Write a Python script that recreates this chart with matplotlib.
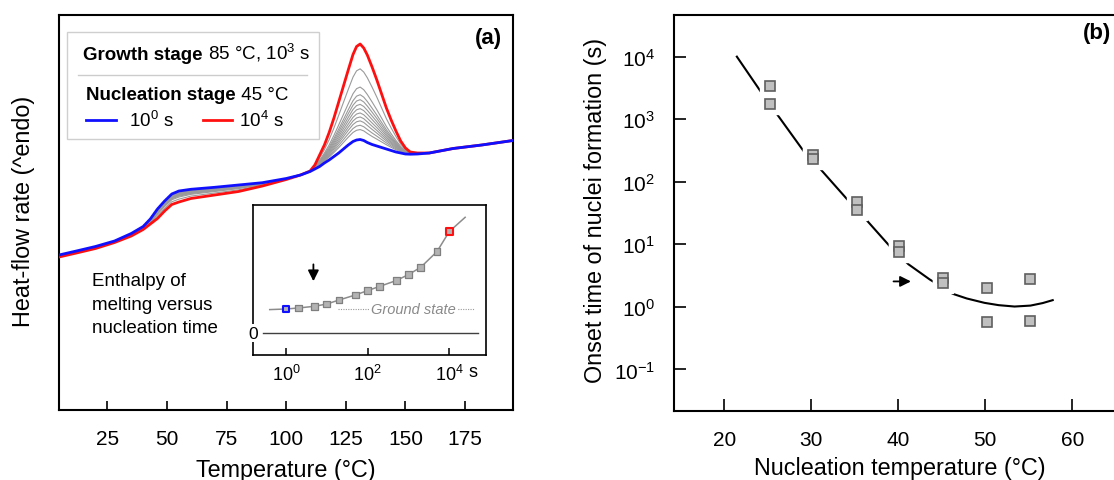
import matplotlib
matplotlib.use('Agg')
import numpy as np
import matplotlib.pyplot as plt
from matplotlib.lines import Line2D
from matplotlib.patches import Rectangle
from matplotlib.ticker import NullLocator

plt.rcParams['font.family'] = ['Liberation Sans', 'DejaVu Sans']
plt.rcParams['mathtext.fontset'] = 'custom'
plt.rcParams['mathtext.rm'] = 'Liberation Sans'
plt.rcParams['mathtext.it'] = 'Liberation Sans:italic'
plt.rcParams['mathtext.bf'] = 'Liberation Sans:bold'

# (a) DSC traces, heat flow in arbitrary units
temp = [4.7, 12, 20, 28, 35, 40, 43, 46, 49, 52, 55, 60, 70, 80, 90, 100, 106, 110,
        112, 114, 116, 118, 120, 122, 124, 126, 128, 129.5, 131, 132.5, 134, 136, 138,
        140, 142, 144, 146, 148, 150, 152, 155, 160, 170, 182, 195.1]
flow_1s = [155, 159, 163.5, 169, 176.5, 183.5, 191, 201, 209, 216, 219, 220.7, 222.7,
           225, 227.3, 231.5, 235, 238.5, 241, 243.5, 247, 250, 253.5, 257, 261, 265,
           268.5, 270, 270.5, 269.5, 267.5, 265.5, 264, 262.5, 261, 259.5, 258, 257,
           256, 255.8, 256, 257, 261.5, 265, 269.5]
flow_1e4s = [153, 157, 161.5, 167.5, 174, 180.5, 186, 191.5, 199, 205.5, 208, 211.5,
             215, 218.5, 224, 230.5, 235, 239, 245, 255, 265, 277.5, 292, 308, 324, 340,
             355.5, 363.5, 366, 362, 355, 343, 330, 316, 302, 290, 279, 269, 262, 258,
             257, 257, 261.5, 265, 269.5]
# relative peak heights of the intermediate traces (0 -> 1 s trace, 1 -> 1e4 s trace)
mix_frac = [0.104, 0.149, 0.195, 0.236, 0.278, 0.323, 0.368, 0.417, 0.469, 0.549, 0.740]

# (a) inset: melting enthalpy vs nucleation time
nucl_time = [1, 2, 5, 10, 20, 50, 100, 200, 500, 1000, 2000, 5000, 10000]
enthalpy = [24.3, 25.3, 27.0, 29.3, 33.3, 38.3, 42.7, 47.0, 52.7, 58.7, 66.0, 81.7, 101.7]
trend_time = [0.4] + nucl_time + [24500]
trend_enth = [23.7] + enthalpy + [116]
ground_state = 24.3

# (b) onset time of nuclei formation
nucl_temp = [25.2, 25.2, 30.2, 30.2, 35.25, 35.25, 40.1, 40.1, 45.1, 45.1, 50.2, 50.2, 55.1, 55.1]
onset_time = [3440, 1740, 263, 232, 47.5, 35.8, 9.4, 7.5, 2.85, 2.43, 1.97, 0.566, 2.74, 0.60]
fit_temp = [21.43, 24.48, 26.02, 29.16, 30.99, 34.24, 36.07, 39.13, 41.16, 43.60,
            46.25, 47.87, 49.91, 51.54, 53.37, 55.2, 56.6, 57.76]
fit_log_time = [4.0, 3.38, 3.085, 2.48, 2.21, 1.70, 1.43, 0.952, 0.681, 0.439,
                0.209, 0.134, 0.064, 0.027, 0.005, 0.02, 0.06, 0.107]

fig = plt.figure(figsize=(11.14, 4.81), dpi=100)

# ---------------- panel (a) ----------------
ax = fig.add_axes([0.05296, 0.14553, 0.40754, 0.82121])
blue = np.array(flow_1s)
red = np.array(flow_1e4s)
for w in mix_frac:
    ax.plot(temp, blue + w * (red - blue), color='#9a9a9a', lw=0.8, zorder=2)
ax.plot(temp, flow_1e4s, color='#ff1010', lw=2.0, zorder=3)
ax.plot(temp, flow_1s, color='#1010ff', lw=2.0, zorder=4)

ax.set_xlim(4.7, 195.1)
ax.set_ylim(0, 395)
ax.set_xticks([25, 50, 75, 100, 125, 150, 175])
ax.tick_params(axis='x', direction='in', length=6.5, width=1.2, labelsize=15, pad=13.5)
ax.tick_params(axis='y', left=False, labelleft=False)
for s in ax.spines.values():
    s.set_linewidth(1.5)
ax.set_xlabel('Temperature (°C)', fontsize=16.8, va='top')
ax.xaxis.set_label_coords(0.5, -0.121)
ax.set_ylabel('Heat-flow rate (^endo)', fontsize=16.8)
ax.yaxis.set_label_coords(-0.053, 0.505)

# legend block
ax.add_patch(Rectangle((0.017, 0.686), 0.556, 0.270, transform=ax.transAxes,
                       facecolor='white', edgecolor='#cfcfcf', lw=1.0, zorder=5))
t1 = ax.text(0.0535, 0.901, 'Growth stage', transform=ax.transAxes, fontsize=13.5,
             fontweight='bold', va='center', zorder=6)
ax.annotate(' 85 °C, 10$^3$ s', xy=(1, 0), xycoords=t1, va='bottom', ha='left',
            fontsize=13.5, zorder=6)
ax.add_line(Line2D([0.0419, 0.546], [0.848, 0.848], transform=ax.transAxes,
                   color='#cccccc', lw=1.0, zorder=6))
t2 = ax.text(0.0595, 0.798, 'Nucleation stage', transform=ax.transAxes, fontsize=13.5,
             fontweight='bold', va='center', zorder=6)
ax.annotate(' 45 °C', xy=(1, 0), xycoords=t2, va='bottom', ha='left',
            fontsize=13.5, zorder=6)
ax.add_line(Line2D([0.0595, 0.1256], [0.735, 0.735], transform=ax.transAxes,
                   color='#1010ff', lw=2.0, zorder=6))
ax.text(0.154, 0.735, '10$^0$ s', transform=ax.transAxes, fontsize=13.5, va='center', zorder=6)
ax.add_line(Line2D([0.317, 0.381], [0.735, 0.735], transform=ax.transAxes,
                   color='#ff1010', lw=2.0, zorder=6))
ax.text(0.396, 0.735, '10$^4$ s', transform=ax.transAxes, fontsize=13.5, va='center', zorder=6)

ax.text(0.945, 0.942, '(a)', transform=ax.transAxes, fontsize=16, fontweight='bold',
        ha='center', va='center')
ax.text(0.0727, 0.268, 'Enthalpy of\nmelting versus\nnucleation time', transform=ax.transAxes,
        fontsize=13.5, va='center', ha='left', linespacing=1.5)

# inset
axi = fig.add_axes([0.22738, 0.26050, 0.20889, 0.31185])
axi.set_xscale('log')
axi.plot([0.27, 50000], [0, 0], color='#404040', lw=1.0, zorder=1)
axi.plot([19, 40700], [ground_state, ground_state], color='#9a9a9a', lw=0.8,
         ls=(0, (1, 1.2)), zorder=1)
axi.text(1290, ground_state, 'Ground state', fontsize=10.5, style='italic', color='#8a8a8a',
         ha='center', va='center', zorder=2,
         bbox=dict(facecolor='white', edgecolor='none', pad=1.5))
axi.plot(trend_time, trend_enth, color='#8c8c8c', lw=1.1, zorder=3)
edge_cols = ['#1010ff'] + ['#7f7f7f'] * (len(nucl_time) - 2) + ['#ff1010']
edge_w = [1.5] + [0.9] * (len(nucl_time) - 2) + [1.5]
axi.scatter(nucl_time, enthalpy, marker='s', s=24, facecolor='#b3b3b3',
            edgecolors=edge_cols, linewidths=edge_w, zorder=4)
axi.annotate('', xy=(4.7, 49.3), xytext=(4.7, 71.7),
             arrowprops=dict(arrowstyle='-|>', color='black', lw=1.3, mutation_scale=16))
axi.set_xlim(10 ** -0.80, 10 ** 4.90)
axi.set_ylim(-21.4, 128.6)
axi.set_xticks([1, 100, 10000])
axi.set_xticklabels(['$10^0$', '$10^2$', '$10^4$'])
axi.xaxis.set_minor_locator(NullLocator())
axi.tick_params(axis='x', direction='in', length=5, width=1.1, labelsize=13, pad=6.5)
axi.tick_params(axis='y', left=False, labelleft=False)
for s in axi.spines.values():
    s.set_linewidth(1.2)
axi.text(0.925, -0.115, 's', transform=axi.transAxes, fontsize=13, va='center', ha='left')
axi.text(0.0, 0.0, '0', transform=axi.get_yaxis_transform(), fontsize=12.5,
         ha='center', va='center', bbox=dict(facecolor='white', edgecolor='none', pad=1.0))

# ---------------- panel (b) ----------------
bx = fig.add_axes([0.60503, 0.14283, 0.40036, 0.82391])
bx.set_yscale('log')
bx.plot(fit_temp, 10 ** np.array(fit_log_time), color='black', lw=1.5, zorder=1)
bx.plot(nucl_temp, onset_time, 's', color='white', markersize=14, zorder=2)
bx.plot(nucl_temp, onset_time, 's', markerfacecolor='#c0c0c0', markeredgecolor='#5f5f5f',
        markeredgewidth=1.2, markersize=6.8, zorder=3)
bx.annotate('', xy=(41.77, 2.55), xytext=(39.13, 2.55),
            arrowprops=dict(arrowstyle='-|>', color='black', lw=1.3, mutation_scale=16))
bx.set_xlim(14.2, 65.5)
bx.set_ylim(10 ** -1.67, 10 ** 4.666)
bx.set_xticks([20, 30, 40, 50, 60])
bx.set_yticks([0.1, 1, 10, 100, 1000, 10000])
bx.set_yticklabels(['$10^{-1}$', '$10^0$', '$10^1$', '$10^2$', '$10^3$', '$10^4$'])
bx.yaxis.set_minor_locator(NullLocator())
bx.tick_params(direction='in', length=8.5, width=1.2, labelsize=15, pad=13.5)
for s in bx.spines.values():
    s.set_linewidth(1.5)
bx.set_xlabel('Nucleation temperature (°C)', fontsize=16.8, va='top')
bx.xaxis.set_label_coords(0.507, -0.113)
bx.set_ylabel('Onset time of nuclei formation (s)', fontsize=16.8)
bx.yaxis.set_label_coords(-0.151, 0.51)
bx.text(0.948, 0.957, '(b)', transform=bx.transAxes, fontsize=16, fontweight='bold',
        ha='center', va='center')

fig.savefig('out.png', dpi=100)
